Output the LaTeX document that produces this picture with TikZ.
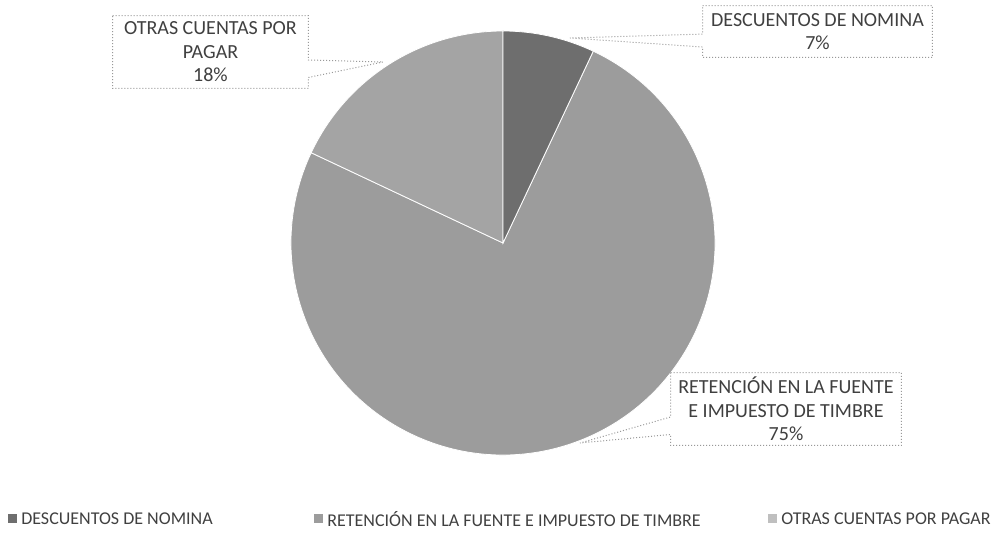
\documentclass[tikz,border=0pt]{standalone}
\usepackage{fontspec}
\setmainfont{Carlito}
\usepackage{tikz}
\usetikzlibrary{calc,positioning}
\definecolor{sliceDesc}{HTML}{6E6E6E}
\definecolor{sliceRet}{HTML}{9C9C9C}
\definecolor{sliceOtras}{HTML}{A4A4A4}
\definecolor{txtGray}{HTML}{404040}
\tikzset{
  lbl/.style={rectangle, draw=none, fill=none, inner sep=0pt, align=center,
    text=txtGray, font=\fontsize{10}{11.8}\selectfont},
  callout/.style={draw=gray!80, densely dotted, line width=0.5pt, fill=white},
  legmark/.style={rectangle, minimum size=4.5pt, inner sep=0pt},
  legtxt/.style={inner sep=0pt, text=txtGray, font=\fontsize{9}{10}\selectfont}
}
\begin{document}
\begin{tikzpicture}[x=0.5pt,y=0.5pt]
\useasboundingbox (0,0) rectangle (999,539);
% pie
\coordinate (C) at (503,296);
\fill[sliceRet, draw=white, line width=0.4pt] (C) -- ++(64.8:212) arc[start angle=64.8, end angle=-205.2, radius=212] -- cycle;
\fill[sliceOtras, draw=white, line width=0.4pt] (C) -- ++(90:212) arc[start angle=90, end angle=154.8, radius=212] -- cycle;
\fill[sliceDesc, draw=white, line width=0.4pt] (C) -- ++(64.8:212) arc[start angle=64.8, end angle=90, radius=212] -- cycle;
% labels
\node[lbl, minimum width=97.5pt, minimum height=36pt] (lblOtras) at (210.5,487) {};
\node[lbl, minimum width=114.5pt, minimum height=25.5pt] (lblDesc) at (817.5,507.5) {};
\node[lbl, minimum width=115pt, minimum height=36pt] (lblRet) at (786,130) {};
\coordinate (tipOtras) at (383,477);
\coordinate (tipDesc) at (570,501);
\coordinate (tipRet) at (580,96);
\draw[callout] (lblOtras.north west) -- (lblOtras.north east) -- ($(lblOtras.north east)!0.61!(lblOtras.south east)$) -- (tipOtras) -- ($(lblOtras.north east)!0.85!(lblOtras.south east)$) -- (lblOtras.south east) -- (lblOtras.south west) -- cycle;
\draw[callout] (lblDesc.north west) -- (lblDesc.north east) -- (lblDesc.south east) -- (lblDesc.south west) -- ($(lblDesc.north west)!0.80!(lblDesc.south west)$) -- (tipDesc) -- ($(lblDesc.north west)!0.55!(lblDesc.south west)$) -- cycle;
\draw[callout] (lblRet.north west) -- (lblRet.north east) -- (lblRet.south east) -- (lblRet.south west) -- ($(lblRet.north west)!0.85!(lblRet.south west)$) -- (tipRet) -- ($(lblRet.north west)!0.61!(lblRet.south west)$) -- cycle;
\node[lbl] (txtOtras) at (lblOtras) {OTRAS CUENTAS POR\\PAGAR\\18\%};
\node[lbl] (txtDesc) at (lblDesc) {DESCUENTOS DE NOMINA\\7\%};
\node[lbl] (txtRet) at (lblRet) {RETENCIÓN EN LA FUENTE\\E IMPUESTO DE TIMBRE\\75\%};
% legend
\node[legmark, fill=sliceDesc] (mDesc) at (12,20) {};
\node[legtxt, right=2pt of mDesc] (tDesc) {DESCUENTOS DE NOMINA};
\node[legmark, fill=sliceRet] (mRet) at (318,20) {};
\node[legtxt, right=2pt of mRet] (tRet) {RETENCIÓN EN LA FUENTE E IMPUESTO DE TIMBRE};
\node[legmark, fill=sliceOtras!70] (mOtras) at (772,20) {};
\node[legtxt, right=2pt of mOtras] (tOtras) {OTRAS CUENTAS POR PAGAR};
\end{tikzpicture}
\end{document}
